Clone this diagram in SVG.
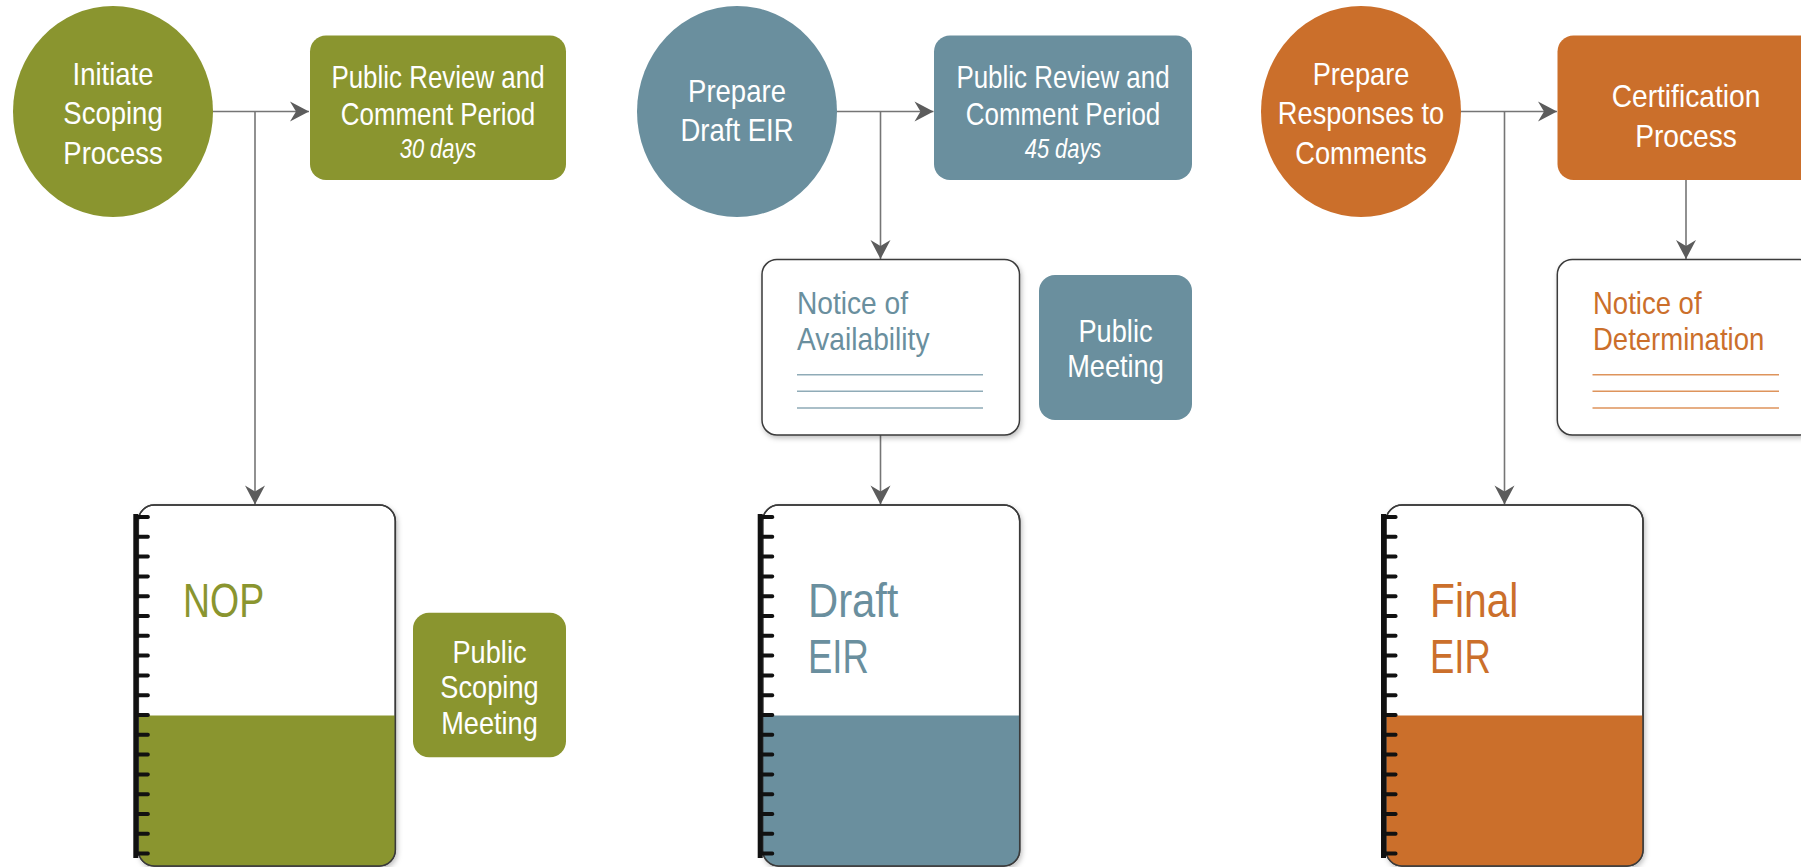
<svg xmlns="http://www.w3.org/2000/svg" width="1801" height="867" viewBox="0 0 1801 867">
<defs>
<style>
.t{font-family:"Liberation Sans",Arial,sans-serif;font-size:32px;fill:#fff;text-anchor:middle}
.it{font-style:italic;font-size:27px}
.nt{font-family:"Liberation Sans",Arial,sans-serif;font-size:32px}
.big{font-family:"Liberation Sans",Arial,sans-serif;font-size:48px}
.olive{fill:#8A952F}.blue{fill:#6A8F9E}.orange{fill:#CB6F2B}
.box{fill:#fff;stroke:#3a3a3a;stroke-width:1.5}
.edge{fill:none;stroke:#3a3a3a;stroke-width:1.5}
.conn{fill:none;stroke:#757575;stroke-width:1.6}
.spine{fill:#111}
.bl{stroke:#8FABB7;stroke-width:1.4}
.ol{stroke:#DE945C;stroke-width:1.4}
</style>
<marker id="arr" viewBox="-20 -11 21 22" refX="0" refY="0" markerWidth="21" markerHeight="22" markerUnits="userSpaceOnUse" orient="auto">
<path d="M0,0 L-19,-10 L-13,0 L-19,10 Z" fill="#5c5c5c"/>
</marker>
<filter id="sh" x="-10%" y="-10%" width="125%" height="125%">
<feDropShadow dx="1.5" dy="2.5" stdDeviation="2.5" flood-color="#000" flood-opacity="0.25"/>
</filter>
<g id="ticks">
<rect x="-5" y="514" width="5" height="344" class="spine"/>
<g class="spine">
<rect x="-4" y="515" width="15.5" height="4" rx="1.8"/>
<rect x="-4" y="534.8" width="15.5" height="4" rx="1.8"/>
<rect x="-4" y="554.6" width="15.5" height="4" rx="1.8"/>
<rect x="-4" y="574.4" width="15.5" height="4" rx="1.8"/>
<rect x="-4" y="594.2" width="15.5" height="4" rx="1.8"/>
<rect x="-4" y="614" width="15.5" height="4" rx="1.8"/>
<rect x="-4" y="633.8" width="15.5" height="4" rx="1.8"/>
<rect x="-4" y="653.6" width="15.5" height="4" rx="1.8"/>
<rect x="-4" y="673.4" width="15.5" height="4" rx="1.8"/>
<rect x="-4" y="693.2" width="15.5" height="4" rx="1.8"/>
<rect x="-4" y="713" width="15.5" height="4" rx="1.8"/>
<rect x="-4" y="732.8" width="15.5" height="4" rx="1.8"/>
<rect x="-4" y="752.6" width="15.5" height="4" rx="1.8"/>
<rect x="-4" y="772.4" width="15.5" height="4" rx="1.8"/>
<rect x="-4" y="792.2" width="15.5" height="4" rx="1.8"/>
<rect x="-4" y="812" width="15.5" height="4" rx="1.8"/>
<rect x="-4" y="831.8" width="15.5" height="4" rx="1.8"/>
<rect x="-4" y="851.6" width="15.5" height="4" rx="1.8"/>
</g>
</g>
</defs>
<rect width="1801" height="867" fill="#fff"/>

<g id="connectors">
<path class="conn" d="M213,111.5 H309" marker-end="url(#arr)"/>
<path class="conn" d="M255,111.5 V504.5" marker-end="url(#arr)"/>
<path class="conn" d="M837,111.5 H933.5" marker-end="url(#arr)"/>
<path class="conn" d="M880.5,111.5 V259" marker-end="url(#arr)"/>
<path class="conn" d="M880.5,435 V504.5" marker-end="url(#arr)"/>
<path class="conn" d="M1461,111.5 H1557" marker-end="url(#arr)"/>
<path class="conn" d="M1504.5,111.5 V504.5" marker-end="url(#arr)"/>
<path class="conn" d="M1686,180 V259" marker-end="url(#arr)"/>
</g>

<!-- Column 1 -->
<g id="initiate-scoping">
<ellipse cx="113" cy="111.5" rx="100" ry="105.5" class="olive"/>
<g transform="translate(113 0) scale(0.86 1)">
<text class="t" x="0" y="85">Initiate</text>
<text class="t" x="0" y="124.5">Scoping</text>
<text class="t" x="0" y="164">Process</text>
</g>
</g>
<g id="review-30">
<rect x="310" y="35.5" width="256" height="144.5" rx="16" class="olive"/>
<g transform="translate(438 0) scale(0.81 1)">
<text class="t" x="0" y="88">Public Review and</text>
<text class="t" x="0" y="125">Comment Period</text>
<text class="t it" x="0" y="158">30 days</text>
</g>
</g>
<g id="nop">
<g filter="url(#sh)">
<rect x="138.3" y="505" width="257" height="361" rx="16" class="box"/>
</g>
<path d="M138.3,715.5 H395.3 V850 A16,16 0 0 1 379.3,866 H154.3 A16,16 0 0 1 138.3,850 Z" class="olive"/>
<rect x="138.3" y="505" width="257" height="361" rx="16" class="edge"/>
<use href="#ticks" x="138.3"/>
<g transform="translate(183 0) scale(0.78 1)">
<text class="big" x="0" y="616.7" fill="#8A952F">NOP</text>
</g>
</g>
<g id="public-scoping-meeting">
<rect x="413" y="612.7" width="153" height="144.5" rx="16" class="olive"/>
<g transform="translate(489.5 0) scale(0.85 1)">
<text class="t" x="0" y="662.7">Public</text>
<text class="t" x="0" y="698.5">Scoping</text>
<text class="t" x="0" y="734.5">Meeting</text>
</g>
</g>

<!-- Column 2 -->
<g id="prepare-draft">
<ellipse cx="737" cy="111.5" rx="100" ry="105.5" class="blue"/>
<g transform="translate(737 0) scale(0.86 1)">
<text class="t" x="0" y="102">Prepare</text>
<text class="t" x="0" y="141.5">Draft EIR</text>
</g>
</g>
<g id="review-45">
<rect x="934" y="35.5" width="258" height="144.5" rx="16" class="blue"/>
<g transform="translate(1063 0) scale(0.81 1)">
<text class="t" x="0" y="88">Public Review and</text>
<text class="t" x="0" y="125">Comment Period</text>
<text class="t it" x="0" y="158">45 days</text>
</g>
</g>
<g id="noa">
<rect x="762" y="259.5" width="257.5" height="175.5" rx="15" class="box" filter="url(#sh)"/>
<g transform="translate(797 0) scale(0.88 1)">
<text class="nt" x="0" y="314" fill="#6A8F9E">Notice of</text>
<text class="nt" x="0" y="350.5" fill="#6A8F9E">Availability</text>
</g>
<path class="bl" d="M797,374.7 H983 M797,391.3 H983 M797,408 H983"/>
</g>
<g id="public-meeting">
<rect x="1039" y="275" width="153" height="145" rx="16" class="blue"/>
<g transform="translate(1115.5 0) scale(0.85 1)">
<text class="t" x="0" y="341.7">Public</text>
<text class="t" x="0" y="377.5">Meeting</text>
</g>
</g>
<g id="draft-eir">
<g filter="url(#sh)">
<rect x="762.7" y="505" width="257" height="361" rx="16" class="box"/>
</g>
<path d="M762.7,715.5 H1019.7 V850 A16,16 0 0 1 1003.7,866 H778.7 A16,16 0 0 1 762.7,850 Z" class="blue"/>
<rect x="762.7" y="505" width="257" height="361" rx="16" class="edge"/>
<use href="#ticks" x="762.7"/>
<g transform="translate(808 0) scale(0.87 1)">
<text class="big" x="0" y="616.7" fill="#6A8F9E">Draft</text>
</g>
<g transform="translate(808 0) scale(0.76 1)">
<text class="big" x="0" y="672.7" fill="#6A8F9E">EIR</text>
</g>
</g>

<!-- Column 3 -->
<g id="prepare-responses">
<ellipse cx="1361" cy="111.5" rx="100" ry="105.5" class="orange"/>
<g transform="translate(1361 0) scale(0.85 1)">
<text class="t" x="0" y="85">Prepare</text>
<text class="t" x="0" y="124.5">Responses to</text>
<text class="t" x="0" y="164">Comments</text>
</g>
</g>
<g id="certification">
<rect x="1557.5" y="35.5" width="258" height="144.5" rx="16" class="orange"/>
<g transform="translate(1686 0) scale(0.88 1)">
<text class="t" x="0" y="107.3">Certification</text>
<text class="t" x="0" y="146.7">Process</text>
</g>
</g>
<g id="nod">
<rect x="1557.3" y="259.5" width="257.5" height="175.5" rx="15" class="box" filter="url(#sh)"/>
<g transform="translate(1593 0) scale(0.86 1)">
<text class="nt" x="0" y="314" fill="#CB6F2B">Notice of</text>
<text class="nt" x="0" y="350.5" fill="#CB6F2B">Determination</text>
</g>
<path class="ol" d="M1592.5,374.7 H1779 M1592.5,391.3 H1779 M1592.5,408 H1779"/>
</g>
<g id="final-eir">
<g filter="url(#sh)">
<rect x="1386" y="505" width="257" height="361" rx="16" class="box"/>
</g>
<path d="M1386,715.5 H1643 V850 A16,16 0 0 1 1627,866 H1402 A16,16 0 0 1 1386,850 Z" class="orange"/>
<rect x="1386" y="505" width="257" height="361" rx="16" class="edge"/>
<use href="#ticks" x="1386"/>
<g transform="translate(1430 0) scale(0.85 1)">
<text class="big" x="0" y="616.7" fill="#CB6F2B">Final</text>
</g>
<g transform="translate(1430 0) scale(0.76 1)">
<text class="big" x="0" y="672.7" fill="#CB6F2B">EIR</text>
</g>
</g>
</svg>
